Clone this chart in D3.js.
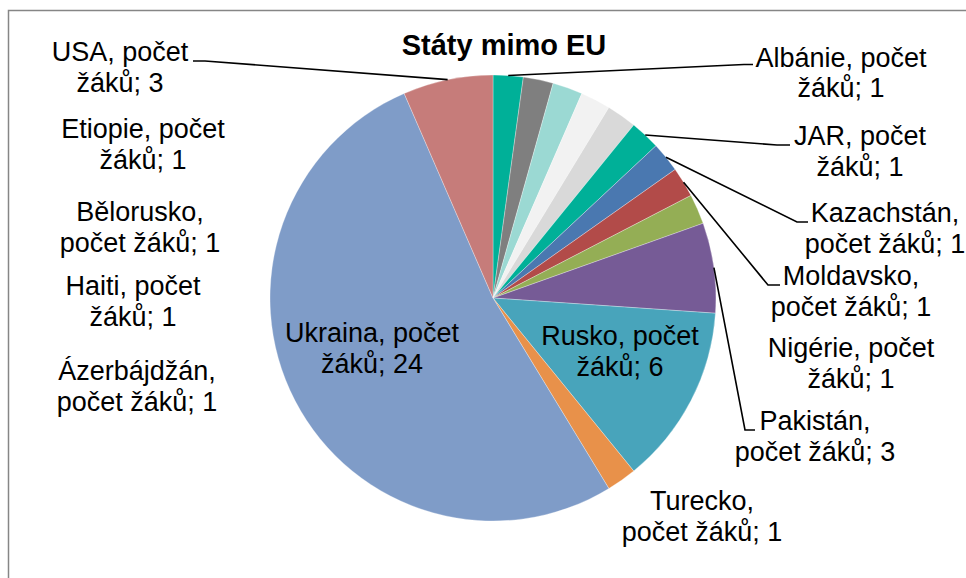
<!DOCTYPE html>
<html>
<head>
<meta charset="utf-8">
<script src="https://cdn.jsdelivr.net/npm/d3@7"></script>
<style>
    html, body { margin: 0; padding: 0; background: #fff; overflow: hidden; }
    svg { display: block; font-family: "Liberation Sans", Arial, sans-serif; }
</style>
</head>
<body>
<div id="chart"></div>
<script>
// Chart data
const chartTitle = "Státy mimo EU";
const countries = ["Albánie", "Ázerbájdžán", "Bělorusko", "Etiopie", "Haiti", "JAR", "Kazachstán",
                   "Moldavsko", "Nigérie", "Pakistán", "Rusko", "Turecko", "Ukraina", "USA"];
const pupils = [1, 1, 1, 1, 1, 1, 1, 1, 1, 3, 6, 1, 24, 3];
const sliceColors = ["#00b098", "#7f7f7f", "#9bd9d3", "#f2f2f2", "#d9d9d9", "#00b098", "#4a78b0",
                     "#b24b49", "#94ae55", "#765b96", "#48a4bb", "#e8914a", "#7f9cc8", "#c67c7a"];

// Where Excel put each data label (centre x, first baseline y), whether the
// name is broken after the comma, and the elbow/end of the leader line if any
const labelLayout = {
    "Albánie":     { x: 841, y: 66.5, wrap: false, leader: [[744, 64.5], [753, 64.5]] },
    "Ázerbájdžán": { x: 137, y: 380,  wrap: true },
    "Bělorusko":   { x: 140, y: 221,  wrap: true },
    "Etiopie":     { x: 143, y: 138,  wrap: false },
    "Haiti":       { x: 133, y: 295,  wrap: false },
    "JAR":         { x: 860, y: 145,  wrap: false, leader: [[777, 145], [790, 145]] },
    "Kazachstán":  { x: 885, y: 222,  wrap: true,  leader: [[797, 222], [808, 222]] },
    "Moldavsko":   { x: 851, y: 285,  wrap: true,  leader: [[768, 285], [780, 285]] },
    "Nigérie":     { x: 851, y: 357,  wrap: false },
    "Pakistán":    { x: 815, y: 430,  wrap: true,  leader: [[745, 430], [755, 430]] },
    "Rusko":       { x: 620, y: 345,  wrap: false },
    "Turecko":     { x: 702, y: 510,  wrap: true },
    "Ukraina":     { x: 372, y: 342,  wrap: false },
    "USA":         { x: 120, y: 61,   wrap: false, leader: [[205, 61], [193, 61]] }
};

const width = 966, height = 578;
const center = { x: 493, y: 298 };
const radius = 223;
const lineHeight = 30.5;

const svg = d3.select("#chart")
    .append("svg")
    .attr("width", width)
    .attr("height", height);

// Chart area border (runs off the right and bottom of the window)
svg.append("rect")
    .attr("x", 8.5)
    .attr("y", 10.5)
    .attr("width", 1000)
    .attr("height", 600)
    .attr("fill", "#fff")
    .attr("stroke", "#868686")
    .attr("stroke-width", 1.5);

const rows = countries.map((c, i) => ({ name: c, value: pupils[i], color: sliceColors[i] }));

const pie = d3.pie()
    .value(d => d.value)
    .sort(null)
    .startAngle(0)
    .endAngle(2 * Math.PI);

const arc = d3.arc().innerRadius(0).outerRadius(radius);
const edge = d3.arc().innerRadius(radius).outerRadius(radius);

const arcs = pie(rows);

const g = svg.append("g")
    .attr("transform", `translate(${center.x},${center.y})`);

g.selectAll("path.slice")
    .data(arcs)
    .enter()
    .append("path")
    .attr("class", "slice")
    .attr("d", arc)
    .attr("fill", d => d.data.color)
    .attr("stroke", "#ffffff")
    .attr("stroke-width", 0.5)
    .attr("stroke-opacity", 0.6);

// Leader lines: from the middle of the slice edge to the label
const line = d3.line();
arcs.forEach(d => {
    const pos = labelLayout[d.data.name];
    if (!pos.leader) return;
    const start = edge.centroid(d);
    const pts = [[start[0] + center.x, start[1] + center.y]].concat(pos.leader);
    svg.append("path")
        .attr("d", line(pts))
        .attr("fill", "none")
        .attr("stroke", "#000")
        .attr("stroke-width", 1.6);
});

// Data labels
arcs.forEach(d => {
    const pos = labelLayout[d.data.name];
    const lines = pos.wrap
        ? [d.data.name + ",", "počet žáků; " + d.data.value]
        : [d.data.name + ", počet", "žáků; " + d.data.value];
    const text = svg.append("text")
        .attr("x", pos.x)
        .attr("y", pos.y)
        .attr("text-anchor", "middle")
        .attr("font-size", 27)
        .attr("fill", "#000");
    lines.forEach((t, i) => {
        text.append("tspan")
            .attr("x", pos.x)
            .attr("y", pos.y + i * lineHeight)
            .text(t);
    });
});

// Title
svg.append("text")
    .attr("x", 504)
    .attr("y", 55)
    .attr("text-anchor", "middle")
    .attr("font-size", 29)
    .attr("font-weight", "bold")
    .attr("fill", "#000")
    .text(chartTitle);
</script>
</body>
</html>
